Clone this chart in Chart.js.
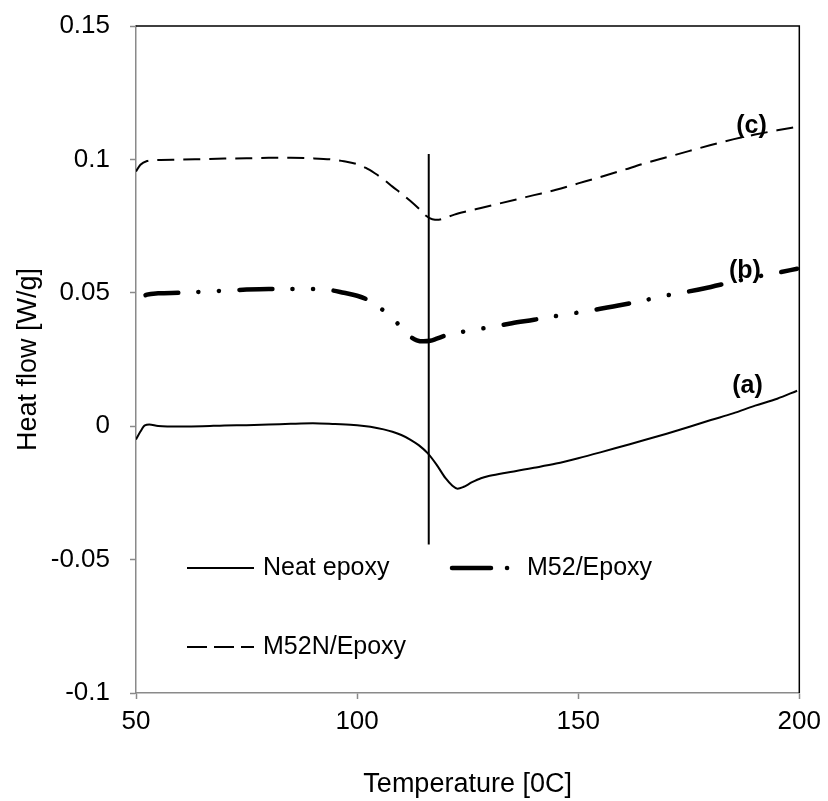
<!DOCTYPE html>
<html>
<head>
<meta charset="utf-8">
<script src="https://cdn.jsdelivr.net/npm/chart.js@4/dist/chart.umd.min.js"></script>
<style>
  html, body { margin: 0; padding: 0; background: #fff; }
  #wrap { width: 828px; height: 801px; }
</style>
</head>
<body>
<div id="wrap"><canvas id="dsc" width="828" height="801"></canvas></div>
<script>
// DSC heat-flow curves, temperature in °C and heat flow in W/g

// (a) Neat epoxy
const tempNeat = [50, 51, 52, 53, 55, 60, 65, 70, 75, 80, 85, 90, 95, 100, 103, 106, 108, 110, 112, 114, 116, 118, 120, 121.5, 122.7, 124, 126, 128, 130, 133, 136, 140, 145, 150, 155, 160, 165, 170, 175, 180, 185, 190, 195, 199.5];
const flowNeat = [-0.0050, -0.0020, 0.0003, 0.0006, 0.0001, -0.0001, 0.0000, 0.0003, 0.0004, 0.0006, 0.0009, 0.0011, 0.0008, 0.0004, -0.0002, -0.0012, -0.0021, -0.0033, -0.0050, -0.0072, -0.0102, -0.0145, -0.0195, -0.0222, -0.0234, -0.0228, -0.0210, -0.0195, -0.0186, -0.0176, -0.0168, -0.0156, -0.0140, -0.0120, -0.0098, -0.0075, -0.0052, -0.0028, -0.0003, 0.0023, 0.0048, 0.0077, 0.0103, 0.0133];

// (b) M52/Epoxy
const tempM52 = [50, 51, 52.5, 55, 60, 65, 70, 75, 80, 85, 90, 94, 97, 100, 102, 104, 106, 108, 110, 112, 113.5, 115, 116.5, 118, 120, 122, 125, 130, 135, 140, 145, 150, 155, 160, 165, 170, 175, 180, 185, 190, 195, 199.5];
const flowM52 = [0.0462, 0.0480, 0.0493, 0.0498, 0.0500, 0.0504, 0.0508, 0.0512, 0.0514, 0.0514, 0.0514, 0.0510, 0.0500, 0.0489, 0.0477, 0.0458, 0.0433, 0.0405, 0.0370, 0.0336, 0.0322, 0.0318, 0.0320, 0.0328, 0.0340, 0.0348, 0.0357, 0.0371, 0.0386, 0.0399, 0.0413, 0.0426, 0.0440, 0.0455, 0.0472, 0.0490, 0.0505, 0.0522, 0.0541, 0.0559, 0.0575, 0.0590];

// (c) M52N/Epoxy
const tempM52N = [50, 51, 52.5, 55, 60, 65, 70, 75, 80, 85, 90, 94, 97, 100, 102, 104, 106, 108, 110, 112, 114, 115.5, 117, 118.5, 120, 122, 125, 128, 132, 136, 140, 145, 150, 155, 160, 165, 170, 175, 180, 185, 190, 195, 199.5];
const flowM52N = [0.0955, 0.0980, 0.0994, 0.0998, 0.0999, 0.1001, 0.1003, 0.1004, 0.1006, 0.1006, 0.1004, 0.1000, 0.0993, 0.0982, 0.0968, 0.0948, 0.0925, 0.0898, 0.0872, 0.0845, 0.0815, 0.0790, 0.0776, 0.0774, 0.0782, 0.0793, 0.0806, 0.0818, 0.0834, 0.0850, 0.0866, 0.0886, 0.0910, 0.0934, 0.0959, 0.0985, 0.1008, 0.1031, 0.1054, 0.1075, 0.1093, 0.1109, 0.1122];

// Glass-transition marker line
const markerTemp = [116.2, 116.2];
const markerFlow = [0.102, -0.0443];

// Curve tags
const tagText = ['(a)', '(b)', '(c)'];
const tagTemp = [188.3, 187.7, 189.2];
const tagFlow = [0.0150, 0.0581, 0.1125];

const seriesNames = ['Neat epoxy', 'M52/Epoxy', 'M52N/Epoxy'];

const xTicks = [50, 100, 150, 200];
const yTicks = [-0.1, -0.05, 0, 0.05, 0.1, 0.15];

const FONT = '"Liberation Sans", Arial, Helvetica, sans-serif';

function pts(xs, ys) { return xs.map((x, i) => ({ x: x, y: ys[i] })); }

// long dash, dot, dot
const dashM52 = [33, 20, 0.1, 20.5, 0.1, 20.5];
const dashM52N = [17, 9];

// Frame lines on top/right, curve tags, and the in-plot legend
const decorations = {
  id: 'decorations',
  afterDatasetsDraw(chart) {
    const { ctx, chartArea: a, scales } = chart;
    ctx.save();
    ctx.strokeStyle = '#000';
    ctx.lineWidth = 1.5;
    ctx.beginPath();
    ctx.moveTo(a.left, a.top);
    ctx.lineTo(a.right, a.top);
    ctx.lineTo(a.right, a.bottom);
    ctx.stroke();

    ctx.fillStyle = '#000';
    ctx.font = 'bold 25px ' + FONT;
    ctx.textAlign = 'center';
    ctx.textBaseline = 'middle';
    tagText.forEach((t, i) => {
      ctx.fillText(t, scales.x.getPixelForValue(tagTemp[i]), scales.y.getPixelForValue(tagFlow[i]));
    });

    // legend
    const ds = chart.data.datasets;
    ctx.font = '25px ' + FONT;
    ctx.textAlign = 'left';
    const entries = [
      { i: 0, x0: 187, x1: 254, y: 568, tx: 263, dash: [], cap: 'butt' },
      { i: 1, x0: 452, x1: 510, y: 568, tx: 527, dash: [39, 16, 0.1, 30], cap: 'round' },
      { i: 2, x0: 187, x1: 254, y: 647, tx: 263, dash: [20, 7], cap: 'butt' }
    ];
    entries.forEach(e => {
      const d = ds[e.i];
      ctx.strokeStyle = d.borderColor;
      ctx.lineWidth = d.borderWidth;
      ctx.lineCap = e.cap;
      ctx.setLineDash(e.dash);
      ctx.beginPath();
      ctx.moveTo(e.x0, e.y);
      ctx.lineTo(e.x1, e.y);
      ctx.stroke();
      ctx.setLineDash([]);
      ctx.fillText(d.label, e.tx, e.y);
    });
    ctx.restore();
  }
};

new Chart(document.getElementById('dsc'), {
  type: 'line',
  data: {
    datasets: [
      {
        label: seriesNames[0],
        data: pts(tempNeat, flowNeat),
        borderColor: '#000',
        borderWidth: 2,
        pointRadius: 0,
        cubicInterpolationMode: 'monotone'
      },
      {
        label: seriesNames[1],
        data: pts(tempM52, flowM52),
        borderColor: '#000',
        borderWidth: 4.5,
        borderDash: dashM52,
        borderCapStyle: 'round',
        borderDashOffset: 81.8,
        pointRadius: 0,
        cubicInterpolationMode: 'monotone'
      },
      {
        label: seriesNames[2],
        data: pts(tempM52N, flowM52N),
        borderColor: '#000',
        borderWidth: 2,
        borderDash: dashM52N,
        pointRadius: 0,
        cubicInterpolationMode: 'monotone'
      },
      {
        label: 'Tg',
        data: pts(markerTemp, markerFlow),
        borderColor: '#000',
        borderWidth: 2,
        pointRadius: 0
      }
    ]
  },
  options: {
    responsive: false,
    animation: false,
    devicePixelRatio: 1,
    layout: { padding: { top: 26, right: 26, left: 0, bottom: 0 } },
    plugins: {
      legend: { display: false },
      tooltip: { enabled: false }
    },
    scales: {
      x: {
        type: 'linear',
        min: 50,
        max: 200,
        afterBuildTicks: s => { s.ticks = xTicks.map(v => ({ value: v })); },
        afterFit: s => { s.height = 108; },
        ticks: {
          color: '#000',
          font: { family: FONT, size: 26 },
          padding: 7,
          maxRotation: 0,
          callback: v => String(v)
        },
        grid: {
          display: true,
          drawOnChartArea: false,
          drawTicks: true,
          tickLength: 6,
          tickWidth: 1.5,
          tickColor: '#8a8a8a',
          color: '#8a8a8a'
        },
        border: { display: true, color: '#8a8a8a', width: 1.5 },
        title: {
          display: true,
          text: 'Temperature [0C]',
          color: '#000',
          font: { family: FONT, size: 27 },
          padding: { top: 0, bottom: 0 }
        }
      },
      y: {
        type: 'linear',
        min: -0.1,
        max: 0.15,
        afterBuildTicks: s => { s.ticks = yTicks.map(v => ({ value: v })); },
        afterFit: s => { s.width = 136; s.paddingTop = 0; s.paddingBottom = 0; },
        ticks: {
          color: '#000',
          font: { family: FONT, size: 26 },
          padding: 20,
          callback: v => String(parseFloat(Number(v).toFixed(2)) || 0)
        },
        grid: {
          display: true,
          drawOnChartArea: false,
          drawTicks: true,
          tickLength: 6,
          tickWidth: 1.5,
          tickColor: '#8a8a8a',
          color: '#8a8a8a'
        },
        border: { display: true, color: '#8a8a8a', width: 1.5 },
        title: {
          display: true,
          text: 'Heat flow [W/g]',
          color: '#000',
          font: { family: FONT, size: 27 },
          padding: { top: 12, bottom: 0 }
        }
      }
    }
  },
  plugins: [decorations]
});
</script>
</body>
</html>
